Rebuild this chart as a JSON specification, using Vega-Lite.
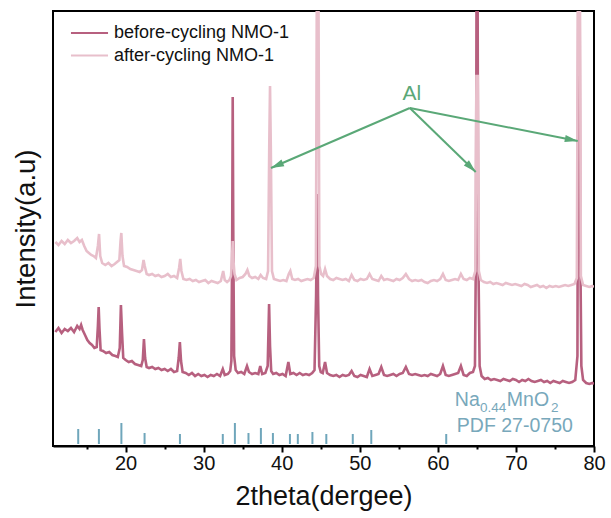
{
  "$schema": "https://vega.github.io/schema/vega-lite/v6.json",
  "autosize": {"type": "none"},
  "padding": {"left": 53, "top": 11, "right": 17, "bottom": 72},
  "width": 541,
  "height": 435,
  "background": "white",
  "config": {
    "view": {"stroke": "black", "strokeWidth": 2},
    "font": "Liberation Sans"
  },
  "datasets": {
    "before": [
      {"theta":11.0,"intensity":114},{"theta":11.4,"intensity":118},{"theta":11.8,"intensity":113},{"theta":12.2,"intensity":117},{"theta":12.6,"intensity":115},{"theta":13.0,"intensity":118},{"theta":13.4,"intensity":114},{"theta":13.8,"intensity":120},{"theta":14.1,"intensity":117},{"theta":14.3,"intensity":121},{"theta":14.5,"intensity":116},{"theta":14.8,"intensity":111},{"theta":15.1,"intensity":106},{"theta":15.4,"intensity":103},{"theta":15.7,"intensity":101},{"theta":16.0,"intensity":98},{"theta":16.3,"intensity":99},{"theta":16.45,"intensity":120},{"theta":16.55,"intensity":139},{"theta":16.65,"intensity":118},{"theta":16.8,"intensity":96},{"theta":17.1,"intensity":95},{"theta":17.5,"intensity":93},{"theta":17.9,"intensity":94},{"theta":18.3,"intensity":91},{"theta":18.7,"intensity":90},{"theta":19.0,"intensity":89},{"theta":19.25,"intensity":98},{"theta":19.4,"intensity":141},{"theta":19.55,"intensity":112},{"theta":19.7,"intensity":88},{"theta":20.0,"intensity":86},{"theta":20.4,"intensity":84},{"theta":20.8,"intensity":85},{"theta":21.2,"intensity":82},{"theta":21.6,"intensity":81},{"theta":22.0,"intensity":80},{"theta":22.2,"intensity":86},{"theta":22.35,"intensity":107},{"theta":22.5,"intensity":88},{"theta":22.7,"intensity":79},{"theta":23.0,"intensity":78},{"theta":23.4,"intensity":79},{"theta":23.8,"intensity":77},{"theta":24.2,"intensity":78},{"theta":24.6,"intensity":76},{"theta":25.0,"intensity":77},{"theta":25.4,"intensity":75},{"theta":25.8,"intensity":77},{"theta":26.2,"intensity":74},{"theta":26.6,"intensity":75},{"theta":26.8,"intensity":88},{"theta":26.95,"intensity":104},{"theta":27.1,"intensity":85},{"theta":27.3,"intensity":74},{"theta":27.7,"intensity":73},{"theta":28.1,"intensity":71},{"theta":28.5,"intensity":73},{"theta":28.9,"intensity":70},{"theta":29.3,"intensity":72},{"theta":29.7,"intensity":70},{"theta":30.1,"intensity":71},{"theta":30.5,"intensity":69},{"theta":30.9,"intensity":71},{"theta":31.3,"intensity":70},{"theta":31.7,"intensity":72},{"theta":32.1,"intensity":70},{"theta":32.45,"intensity":77},{"theta":32.7,"intensity":71},{"theta":33.1,"intensity":72},{"theta":33.4,"intensity":75},{"theta":33.55,"intensity":85},{"theta":33.65,"intensity":200},{"theta":33.72,"intensity":349},{"theta":33.8,"intensity":200},{"theta":33.9,"intensity":90},{"theta":34.1,"intensity":76},{"theta":34.4,"intensity":73},{"theta":34.8,"intensity":74},{"theta":35.2,"intensity":72},{"theta":35.55,"intensity":80},{"theta":35.8,"intensity":74},{"theta":36.2,"intensity":72},{"theta":36.6,"intensity":73},{"theta":37.0,"intensity":72},{"theta":37.25,"intensity":80},{"theta":37.5,"intensity":72},{"theta":37.9,"intensity":73},{"theta":38.2,"intensity":80},{"theta":38.38,"intensity":142},{"theta":38.5,"intensity":100},{"theta":38.65,"intensity":75},{"theta":38.9,"intensity":72},{"theta":39.3,"intensity":73},{"theta":39.7,"intensity":71},{"theta":40.1,"intensity":72},{"theta":40.5,"intensity":70},{"theta":40.85,"intensity":84},{"theta":41.1,"intensity":72},{"theta":41.5,"intensity":73},{"theta":41.9,"intensity":71},{"theta":42.3,"intensity":73},{"theta":42.7,"intensity":71},{"theta":43.1,"intensity":72},{"theta":43.5,"intensity":71},{"theta":43.9,"intensity":73},{"theta":44.2,"intensity":76},{"theta":44.4,"intensity":150},{"theta":44.55,"intensity":252},{"theta":44.65,"intensity":150},{"theta":44.8,"intensity":80},{"theta":45.0,"intensity":74},{"theta":45.25,"intensity":73},{"theta":45.55,"intensity":84},{"theta":45.8,"intensity":73},{"theta":46.2,"intensity":71},{"theta":46.6,"intensity":70},{"theta":47.0,"intensity":71},{"theta":47.4,"intensity":69},{"theta":47.8,"intensity":71},{"theta":48.2,"intensity":70},{"theta":48.6,"intensity":71},{"theta":48.95,"intensity":75},{"theta":49.3,"intensity":70},{"theta":49.7,"intensity":69},{"theta":50.1,"intensity":71},{"theta":50.5,"intensity":70},{"theta":50.9,"intensity":69},{"theta":51.25,"intensity":77},{"theta":51.6,"intensity":70},{"theta":52.0,"intensity":71},{"theta":52.4,"intensity":72},{"theta":52.75,"intensity":79},{"theta":53.1,"intensity":71},{"theta":53.5,"intensity":70},{"theta":53.9,"intensity":71},{"theta":54.3,"intensity":72},{"theta":54.7,"intensity":70},{"theta":55.1,"intensity":72},{"theta":55.5,"intensity":73},{"theta":55.9,"intensity":79},{"theta":56.3,"intensity":72},{"theta":56.7,"intensity":71},{"theta":57.1,"intensity":72},{"theta":57.5,"intensity":71},{"theta":57.9,"intensity":70},{"theta":58.3,"intensity":71},{"theta":58.7,"intensity":70},{"theta":59.1,"intensity":72},{"theta":59.5,"intensity":71},{"theta":59.9,"intensity":70},{"theta":60.3,"intensity":72},{"theta":60.65,"intensity":80},{"theta":61.0,"intensity":71},{"theta":61.4,"intensity":70},{"theta":61.8,"intensity":71},{"theta":62.2,"intensity":72},{"theta":62.6,"intensity":73},{"theta":62.95,"intensity":80},{"theta":63.3,"intensity":71},{"theta":63.7,"intensity":70},{"theta":64.1,"intensity":73},{"theta":64.5,"intensity":74},{"theta":64.75,"intensity":80},{"theta":64.88,"intensity":200},{"theta":64.97,"intensity":520},{"theta":65.07,"intensity":520},{"theta":65.17,"intensity":200},{"theta":65.35,"intensity":80},{"theta":65.6,"intensity":70},{"theta":66.0,"intensity":67},{"theta":66.4,"intensity":68},{"theta":66.8,"intensity":66},{"theta":67.2,"intensity":67},{"theta":67.6,"intensity":66},{"theta":68.0,"intensity":65},{"theta":68.4,"intensity":67},{"theta":68.8,"intensity":66},{"theta":69.2,"intensity":65},{"theta":69.6,"intensity":67},{"theta":70.0,"intensity":66},{"theta":70.4,"intensity":64},{"theta":70.8,"intensity":66},{"theta":71.2,"intensity":65},{"theta":71.6,"intensity":67},{"theta":72.0,"intensity":65},{"theta":72.4,"intensity":64},{"theta":72.8,"intensity":65},{"theta":73.2,"intensity":66},{"theta":73.6,"intensity":64},{"theta":74.0,"intensity":65},{"theta":74.4,"intensity":63},{"theta":74.8,"intensity":65},{"theta":75.2,"intensity":64},{"theta":75.6,"intensity":63},{"theta":76.0,"intensity":65},{"theta":76.4,"intensity":64},{"theta":76.8,"intensity":63},{"theta":77.2,"intensity":64},{"theta":77.6,"intensity":66},{"theta":77.88,"intensity":90},{"theta":78.0,"intensity":520},{"theta":78.14,"intensity":520},{"theta":78.24,"intensity":200},{"theta":78.38,"intensity":80},{"theta":78.6,"intensity":66},{"theta":79.0,"intensity":63},{"theta":79.4,"intensity":62},{"theta":79.8,"intensity":63},{"theta":80.0,"intensity":62}
    ],
    "after": [
      {"theta":11.0,"intensity":204},{"theta":11.4,"intensity":201},{"theta":11.8,"intensity":205},{"theta":12.2,"intensity":202},{"theta":12.6,"intensity":206},{"theta":13.0,"intensity":203},{"theta":13.4,"intensity":205},{"theta":13.8,"intensity":208},{"theta":14.1,"intensity":204},{"theta":14.4,"intensity":206},{"theta":14.7,"intensity":200},{"theta":15.0,"intensity":195},{"theta":15.3,"intensity":193},{"theta":15.6,"intensity":191},{"theta":15.9,"intensity":190},{"theta":16.2,"intensity":188},{"theta":16.45,"intensity":200},{"theta":16.6,"intensity":212},{"theta":16.75,"intensity":190},{"theta":17.0,"intensity":183},{"theta":17.4,"intensity":181},{"theta":17.8,"intensity":183},{"theta":18.2,"intensity":180},{"theta":18.6,"intensity":182},{"theta":18.9,"intensity":184},{"theta":19.2,"intensity":186},{"theta":19.35,"intensity":205},{"theta":19.45,"intensity":213},{"theta":19.6,"intensity":190},{"theta":19.8,"intensity":180},{"theta":20.2,"intensity":179},{"theta":20.6,"intensity":177},{"theta":21.0,"intensity":176},{"theta":21.4,"intensity":175},{"theta":21.8,"intensity":174},{"theta":22.1,"intensity":176},{"theta":22.3,"intensity":186},{"theta":22.45,"intensity":180},{"theta":22.7,"intensity":172},{"theta":23.0,"intensity":171},{"theta":23.4,"intensity":172},{"theta":23.8,"intensity":170},{"theta":24.2,"intensity":171},{"theta":24.6,"intensity":169},{"theta":25.0,"intensity":170},{"theta":25.4,"intensity":172},{"theta":25.8,"intensity":169},{"theta":26.2,"intensity":170},{"theta":26.6,"intensity":168},{"theta":26.85,"intensity":178},{"theta":27.0,"intensity":187},{"theta":27.15,"intensity":175},{"theta":27.4,"intensity":167},{"theta":27.8,"intensity":166},{"theta":28.2,"intensity":167},{"theta":28.6,"intensity":165},{"theta":29.0,"intensity":166},{"theta":29.4,"intensity":164},{"theta":29.8,"intensity":165},{"theta":30.2,"intensity":166},{"theta":30.6,"intensity":163},{"theta":31.0,"intensity":165},{"theta":31.4,"intensity":164},{"theta":31.8,"intensity":163},{"theta":32.2,"intensity":165},{"theta":32.5,"intensity":175},{"theta":32.7,"intensity":166},{"theta":33.0,"intensity":164},{"theta":33.3,"intensity":166},{"theta":33.5,"intensity":170},{"theta":33.62,"intensity":185},{"theta":33.72,"intensity":205},{"theta":33.82,"intensity":185},{"theta":33.95,"intensity":172},{"theta":34.2,"intensity":166},{"theta":34.6,"intensity":168},{"theta":35.0,"intensity":169},{"theta":35.35,"intensity":172},{"theta":35.6,"intensity":176},{"theta":35.85,"intensity":170},{"theta":36.2,"intensity":168},{"theta":36.6,"intensity":169},{"theta":37.0,"intensity":167},{"theta":37.3,"intensity":171},{"theta":37.6,"intensity":168},{"theta":38.0,"intensity":167},{"theta":38.25,"intensity":175},{"theta":38.4,"intensity":300},{"theta":38.5,"intensity":360},{"theta":38.6,"intensity":300},{"theta":38.75,"intensity":175},{"theta":39.0,"intensity":167},{"theta":39.4,"intensity":166},{"theta":39.8,"intensity":165},{"theta":40.2,"intensity":166},{"theta":40.6,"intensity":165},{"theta":40.9,"intensity":172},{"theta":41.1,"intensity":175},{"theta":41.35,"intensity":167},{"theta":41.7,"intensity":166},{"theta":42.1,"intensity":167},{"theta":42.5,"intensity":165},{"theta":42.9,"intensity":166},{"theta":43.3,"intensity":167},{"theta":43.7,"intensity":166},{"theta":44.1,"intensity":168},{"theta":44.38,"intensity":180},{"theta":44.52,"intensity":520},{"theta":44.68,"intensity":520},{"theta":44.82,"intensity":180},{"theta":45.05,"intensity":172},{"theta":45.3,"intensity":170},{"theta":45.55,"intensity":177},{"theta":45.8,"intensity":170},{"theta":46.2,"intensity":167},{"theta":46.6,"intensity":166},{"theta":47.0,"intensity":168},{"theta":47.4,"intensity":167},{"theta":47.8,"intensity":166},{"theta":48.2,"intensity":167},{"theta":48.6,"intensity":165},{"theta":48.95,"intensity":171},{"theta":49.3,"intensity":166},{"theta":49.7,"intensity":165},{"theta":50.1,"intensity":167},{"theta":50.5,"intensity":166},{"theta":50.9,"intensity":167},{"theta":51.25,"intensity":172},{"theta":51.6,"intensity":167},{"theta":52.0,"intensity":166},{"theta":52.4,"intensity":165},{"theta":52.75,"intensity":170},{"theta":53.1,"intensity":166},{"theta":53.5,"intensity":167},{"theta":53.9,"intensity":166},{"theta":54.3,"intensity":165},{"theta":54.7,"intensity":167},{"theta":55.1,"intensity":166},{"theta":55.5,"intensity":168},{"theta":55.9,"intensity":172},{"theta":56.3,"intensity":167},{"theta":56.7,"intensity":165},{"theta":57.1,"intensity":166},{"theta":57.5,"intensity":165},{"theta":57.9,"intensity":166},{"theta":58.3,"intensity":164},{"theta":58.7,"intensity":163},{"theta":59.1,"intensity":165},{"theta":59.5,"intensity":166},{"theta":59.9,"intensity":165},{"theta":60.3,"intensity":167},{"theta":60.65,"intensity":172},{"theta":61.0,"intensity":166},{"theta":61.4,"intensity":165},{"theta":61.8,"intensity":166},{"theta":62.2,"intensity":167},{"theta":62.6,"intensity":166},{"theta":62.95,"intensity":172},{"theta":63.3,"intensity":167},{"theta":63.7,"intensity":166},{"theta":64.1,"intensity":168},{"theta":64.5,"intensity":167},{"theta":64.8,"intensity":175},{"theta":64.94,"intensity":370},{"theta":65.1,"intensity":370},{"theta":65.25,"intensity":175},{"theta":65.5,"intensity":166},{"theta":65.9,"intensity":164},{"theta":66.3,"intensity":163},{"theta":66.7,"intensity":164},{"theta":67.1,"intensity":162},{"theta":67.5,"intensity":163},{"theta":67.9,"intensity":162},{"theta":68.3,"intensity":161},{"theta":68.7,"intensity":163},{"theta":69.1,"intensity":162},{"theta":69.5,"intensity":161},{"theta":69.9,"intensity":162},{"theta":70.3,"intensity":161},{"theta":70.7,"intensity":160},{"theta":71.1,"intensity":162},{"theta":71.5,"intensity":161},{"theta":71.9,"intensity":159},{"theta":72.3,"intensity":160},{"theta":72.7,"intensity":161},{"theta":73.1,"intensity":159},{"theta":73.5,"intensity":160},{"theta":73.9,"intensity":158},{"theta":74.3,"intensity":160},{"theta":74.7,"intensity":159},{"theta":75.1,"intensity":160},{"theta":75.5,"intensity":159},{"theta":75.9,"intensity":160},{"theta":76.3,"intensity":161},{"theta":76.7,"intensity":160},{"theta":77.1,"intensity":161},{"theta":77.5,"intensity":162},{"theta":77.8,"intensity":168},{"theta":77.97,"intensity":520},{"theta":78.17,"intensity":520},{"theta":78.32,"intensity":170},{"theta":78.6,"intensity":161},{"theta":79.0,"intensity":160},{"theta":79.4,"intensity":159},{"theta":79.8,"intensity":160},{"theta":80.0,"intensity":159}
    ],
    "pdf": [
      {"theta":13.93,"intensity":17},{"theta":16.58,"intensity":17},{"theta":19.46,"intensity":23},{"theta":22.43,"intensity":13},{"theta":26.96,"intensity":12},{"theta":32.45,"intensity":12},{"theta":34.0,"intensity":23},{"theta":35.74,"intensity":13},{"theta":37.33,"intensity":18},{"theta":38.87,"intensity":13},{"theta":41.05,"intensity":12},{"theta":42.06,"intensity":12},{"theta":43.93,"intensity":14},{"theta":45.71,"intensity":12},{"theta":49.1,"intensity":12},{"theta":51.47,"intensity":16},{"theta":61.07,"intensity":12}
    ],
    "arrows": [
      {"target":"a","theta":56.41,"intensity":338,"theta2":38.62,"intensity2":278},
      {"target":"b","theta":56.41,"intensity":338,"theta2":64.85,"intensity2":274},
      {"target":"c","theta":56.41,"intensity":338,"theta2":77.92,"intensity2":305}
    ]
  },
  "layer": [
    {
      "data": {"name": "before"},
      "mark": {"type": "line", "strokeWidth": 2.6, "clip": true},
      "encoding": {
        "x": {"field": "theta", "type": "quantitative",
          "scale": {"domain": [10.7, 80], "nice": false, "zero": false},
          "axis": {
            "values": [15,20,25,30,35,40,45,50,55,60,65,70,75,80],
            "labelExpr": "datum.value % 10 === 0 ? datum.label : ''",
            "tickSize": {"condition": {"test": "datum.value % 10 === 0", "value": 6}, "value": 3},
            "tickColor": "black", "tickWidth": 2,
            "domainColor": "black", "domainWidth": 2,
            "grid": false,
            "labelFontSize": 20, "labelColor": "#111", "labelPadding": 1, "labelFlush": false, "labelOverlap": false,
            "title": "2theta(dergee)", "titleFontSize": 27, "titleFontWeight": "normal", "titleColor": "#111", "titlePadding": 10
          }},
        "y": {"field": "intensity", "type": "quantitative",
          "scale": {"domain": [0, 435], "nice": false, "zero": false},
          "axis": {"ticks": false, "labels": false, "domain": false, "grid": false,
            "title": "Intensity(a.u)", "titleFontSize": 27.5, "titleFontWeight": "normal", "titleColor": "#111", "titlePadding": 13}},
        "color": {"datum": "before-cycling NMO-1", "type": "nominal",
          "scale": {"domain": ["before-cycling NMO-1", "after-cycling NMO-1"], "range": ["#b7607f", "#e8bfcb"]},
          "legend": {"orient": "none", "legendX": 25, "legendY": 10.5, "title": null, "symbolType": "M-1.8,0L1.8,0", "symbolSize": 424, "symbolStrokeWidth": 2.2, "labelFontSize": 18, "labelColor": "#111", "labelOffset": 13, "labelLimit": 0, "rowPadding": 1.5, "padding": 0}}
      }
    },
    {
      "data": {"name": "after"},
      "mark": {"type": "line", "strokeWidth": 2.6, "clip": true},
      "encoding": {
        "x": {"field": "theta", "type": "quantitative"},
        "y": {"field": "intensity", "type": "quantitative"},
        "color": {"datum": "after-cycling NMO-1", "type": "nominal"}
      }
    },
    {
      "data": {"name": "pdf"},
      "mark": {"type": "rule", "color": "#6fa6bb", "strokeWidth": 2},
      "encoding": {
        "x": {"field": "theta", "type": "quantitative"},
        "y": {"field": "intensity", "type": "quantitative"},
        "y2": {"datum": 2}
      }
    },
    {
      "data": {"name": "arrows"},
      "mark": {"type": "rule", "color": "#5aa877", "strokeWidth": 2},
      "encoding": {
        "x": {"field": "theta", "type": "quantitative"},
        "y": {"field": "intensity", "type": "quantitative"},
        "x2": {"field": "theta2"},
        "y2": {"field": "intensity2"}
      }
    },
    {
      "data": {"name": "arrows"},
      "transform": [{"filter": "datum.target === 'a'"}],
      "mark": {"type": "point", "shape": "M0,0L-0.45,1.6L0.45,1.6Z", "filled": true, "color": "#5aa877", "size": 264, "angle": 246.7, "opacity": 1},
      "encoding": {
        "x": {"field": "theta2", "type": "quantitative"},
        "y": {"field": "intensity2", "type": "quantitative"}
      }
    },
    {
      "data": {"name": "arrows"},
      "transform": [{"filter": "datum.target === 'b'"}],
      "mark": {"type": "point", "shape": "M0,0L-0.45,1.6L0.45,1.6Z", "filled": true, "color": "#5aa877", "size": 264, "angle": 134.2, "opacity": 1},
      "encoding": {
        "x": {"field": "theta2", "type": "quantitative"},
        "y": {"field": "intensity2", "type": "quantitative"}
      }
    },
    {
      "data": {"name": "arrows"},
      "transform": [{"filter": "datum.target === 'c'"}],
      "mark": {"type": "point", "shape": "M0,0L-0.45,1.6L0.45,1.6Z", "filled": true, "color": "#5aa877", "size": 264, "angle": 101.1, "opacity": 1},
      "encoding": {
        "x": {"field": "theta2", "type": "quantitative"},
        "y": {"field": "intensity2", "type": "quantitative"}
      }
    },
    {
      "data": {"values": [{"theta": 56.67, "intensity": 352, "label": "Al"}]},
      "mark": {"type": "text", "fontSize": 21, "color": "#5aa877", "align": "center", "baseline": "middle"},
      "encoding": {
        "x": {"field": "theta", "type": "quantitative"},
        "y": {"field": "intensity", "type": "quantitative"},
        "text": {"field": "label"}
      }
    },
    {
      "data": {"values": [
        {"theta": 62.17, "intensity": 46, "label": "Na"},
        {"theta": 68.83, "intensity": 46, "label": "MnO"},
        {"theta": 62.43, "intensity": 20, "label": "PDF 27-0750"}
      ]},
      "mark": {"type": "text", "fontSize": 19.5, "color": "#78a8bb", "align": "left", "baseline": "middle"},
      "encoding": {
        "x": {"field": "theta", "type": "quantitative"},
        "y": {"field": "intensity", "type": "quantitative"},
        "text": {"field": "label"}
      }
    },
    {
      "data": {"values": [
        {"theta": 65.4, "intensity": 38, "label": "0.44"},
        {"theta": 74.5, "intensity": 38, "label": "2"}
      ]},
      "mark": {"type": "text", "fontSize": 13.5, "color": "#78a8bb", "align": "left", "baseline": "middle"},
      "encoding": {
        "x": {"field": "theta", "type": "quantitative"},
        "y": {"field": "intensity", "type": "quantitative"},
        "text": {"field": "label"}
      }
    }
  ]
}
